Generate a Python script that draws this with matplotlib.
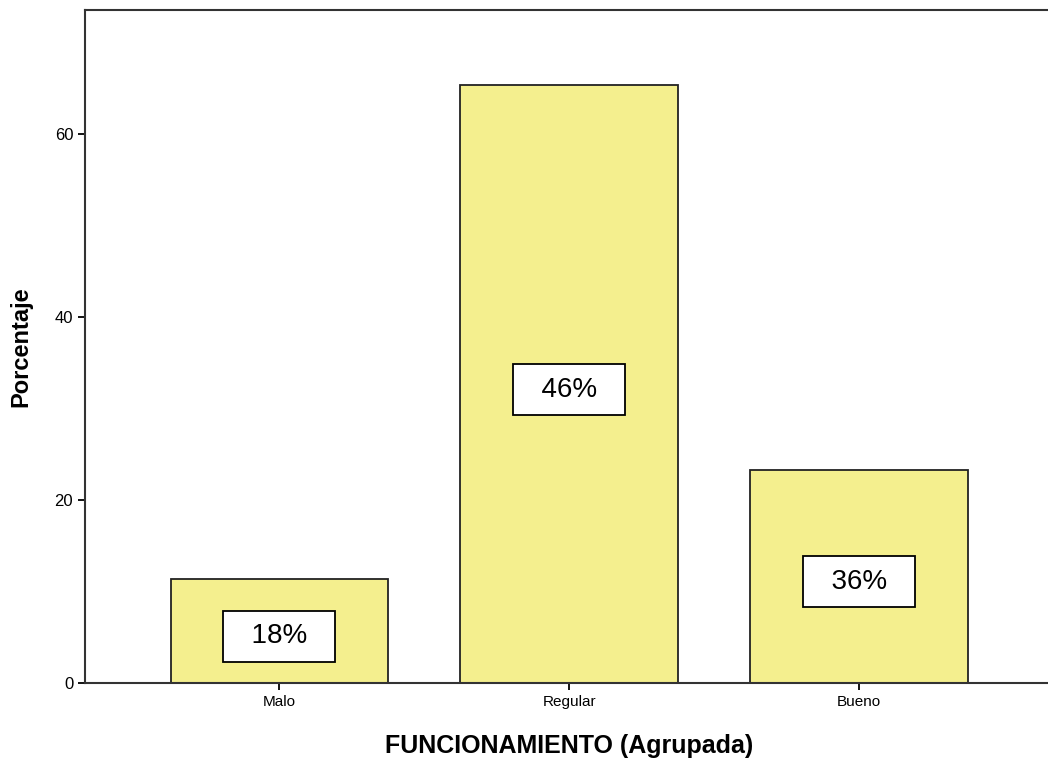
import matplotlib
matplotlib.use("Agg")
import matplotlib.pyplot as plt

plt.rcParams['font.family'] = ['Liberation Sans', 'DejaVu Sans']

# data
categorias = ["Malo", "Regular", "Bueno"]
porcentaje = [11.4, 65.3, 23.3]
etiquetas = ["18%", "46%", "36%"]
yticks = [0, 20, 40, 60]

fig = plt.figure(figsize=(10.48, 7.6), dpi=100)
ax = fig.add_axes([0.0811, 0.1013, 0.924, 0.8855])

x = range(len(categorias))
ax.bar(x, porcentaje, width=0.75, color="#F4EF8E", edgecolor="#222222", linewidth=1.3)

# label boxes roughly at mid-height of each bar
for xi, v, lab in zip(x, porcentaje, etiquetas):
    ax.text(xi, v / 2 - 0.6, "  " + lab + "  ", ha="center", va="center", fontsize=20,
            bbox=dict(boxstyle="square,pad=0.45", facecolor="white", edgecolor="black", linewidth=1.3))

ax.set_xlim(-0.67, 2.67)
ax.set_ylim(0, 73.5)
ax.set_xticks(list(x))
ax.set_xticklabels(categorias, fontsize=11)
ax.set_yticks(yticks)
ax.tick_params(axis="y", labelsize=12, length=5, width=1.3)
ax.tick_params(axis="x", length=5, width=1.3)

for s in ["left", "bottom", "top", "right"]:
    ax.spines[s].set_linewidth(1.5)
    ax.spines[s].set_color("#333333")

ax.set_xlabel("FUNCIONAMIENTO (Agrupada)", fontsize=18, fontweight="bold", labelpad=18)
ax.set_ylabel("Porcentaje", fontsize=17, fontweight="bold", labelpad=16)

fig.savefig("out.png", dpi=100)
